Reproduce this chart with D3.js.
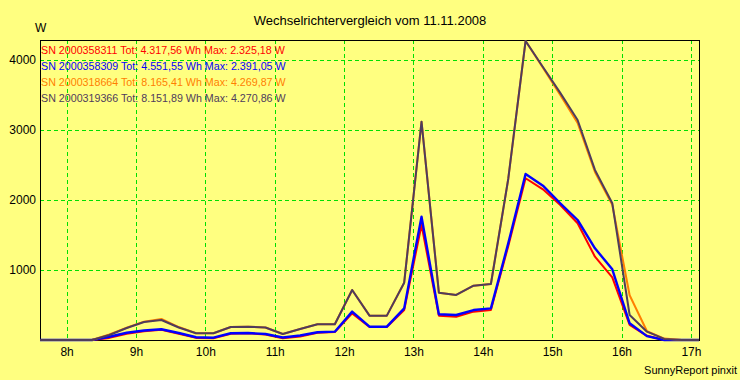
<!DOCTYPE html>
<html>
<head>
<meta charset="utf-8">
<script src="https://cdn.jsdelivr.net/npm/d3@7"></script>
<style>
html,body{margin:0;padding:0;background:#FFFF80;}
svg{display:block;}
text{font-family:"Liberation Sans",Arial,sans-serif;}
</style>
</head>
<body>
<svg id="chart" width="740" height="380"></svg>
<script>
// ---- data ----
const times = ["07:37","07:52","08:07","08:22","08:37","08:52","09:07","09:22","09:37","09:52",
  "10:07","10:22","10:37","10:52","11:07","11:22","11:37","11:52","12:07","12:22",
  "12:37","12:52","13:07","13:22","13:37","13:52","14:07","14:22","14:37","14:52",
  "15:07","15:22","15:37","15:52","16:07","16:22","16:37","16:52","17:07"];
const serials = ["SN 2000358311","SN 2000358309","SN 2000318664","SN 2000319366"];
const totals = ["4.317,56","4.551,55","8.165,41","8.151,89"];
const maxima = ["2.325,18","2.391,05","4.269,87","4.270,86"];
const sRed = [0,0,0,0,30,90,125,145,90,30,25,90,95,80,25,50,105,115,380,185,185,428,1643,348,333,405,428,1340,2310,2152,1929,1667,1190,895,214,60,0,0,0];
const sBlue = [0,0,0,0,47,104,136,153,100,39,33,96,100,86,36,64,110,119,405,190,190,452,1762,367,357,428,452,1380,2371,2204,1953,1714,1310,1010,238,55,0,0,0];
const sOrange = [0,0,0,0,80,175,262,300,185,96,96,186,190,179,86,157,224,224,714,348,348,819,3119,676,643,776,800,2300,4270,3890,3500,3100,2400,1930,640,125,20,0,0];
const sDark = [0,0,0,0,71,171,257,286,179,96,96,186,190,179,86,157,224,224,714,348,348,819,3119,676,643,776,800,2300,4271,3900,3529,3143,2429,1953,357,119,15,0,0];
const hourTicks = [8,9,10,11,12,13,14,15,16,17];
const yTicks = [1000,2000,3000,4000];
const title = "Wechselrichtervergleich vom 11.11.2008";

// ---- layout ----
const colors = ["#FF0000","#0000FF","#FF8000","#4F3C5C"];
const seriesList = [sRed,sBlue,sOrange,sDark];
const L=40,T=40,R=699,B=340;
const toH = s => { const [h,m]=s.split(":").map(Number); return h+m/60; };

const svg = d3.select("#chart");
svg.append("rect").attr("width",740).attr("height",380).attr("fill","#FFFF80");

const x = d3.scaleLinear().domain([toH(times[0]), toH(times[times.length-1])]).range([L,R]);
const y = d3.scaleLinear().domain([0,4285]).range([B,T]);

// grid
const grid = svg.append("g").attr("stroke","#00E000").attr("stroke-dasharray","4,3").attr("shape-rendering","crispEdges");
grid.selectAll("line.v").data(hourTicks).enter().append("line")
  .attr("x1",d=>Math.round(x(d))+0.5).attr("x2",d=>Math.round(x(d))+0.5).attr("y1",T).attr("y2",B);
grid.selectAll("line.h").data(yTicks).enter().append("line")
  .attr("x1",L).attr("x2",R).attr("y1",d=>Math.round(y(d))+0.5).attr("y2",d=>Math.round(y(d))+0.5);

// frame
svg.append("rect").attr("x",L+0.5).attr("y",T+0.5).attr("width",R-L).attr("height",B-T)
  .attr("fill","none").attr("stroke","#000").attr("shape-rendering","crispEdges");

// axes (labels only)
const xAxis = d3.axisBottom(x).tickValues(hourTicks).tickFormat(d=>d+"h").tickSize(0).tickPadding(7);
const gx = svg.append("g").attr("transform",`translate(0,${B})`).call(xAxis);
gx.select(".domain").remove();
gx.selectAll("text").attr("font-size",12).attr("fill","#000").attr("font-family","Liberation Sans, Arial, sans-serif");

const yAxis = d3.axisLeft(y).tickValues(yTicks).tickFormat(d=>String(d)).tickSize(0).tickPadding(4);
const gy = svg.append("g").attr("transform",`translate(${L},0)`).call(yAxis);
gy.select(".domain").remove();
gy.selectAll("text").attr("font-size",12).attr("fill","#000").attr("font-family","Liberation Sans, Arial, sans-serif");

// lines
const line = d3.line().x((d,i)=>x(toH(times[i]))).y(d=>y(d));
seriesList.forEach((s,i)=>{
  svg.append("path").datum(s).attr("d",line).attr("fill","none")
    .attr("stroke",colors[i]).attr("stroke-width",i===1?2.4:2).attr("stroke-linejoin","round");
});

// legend
serials.forEach((sn,i)=>{
  svg.append("text").attr("x",41).attr("y",53.5+i*16).attr("font-size",10.7).attr("fill",colors[i])
    .text(`${sn} Tot: ${totals[i]} Wh Max: ${maxima[i]} W`);
});

// titles
svg.append("text").attr("x",370).attr("y",25).attr("text-anchor","middle").attr("font-size",13).text(title);
svg.append("text").attr("x",35).attr("y",31.5).attr("font-size",12).text("W");
svg.append("text").attr("x",737).attr("y",374).attr("text-anchor","end").attr("font-size",11).text("SunnyReport pinxit");
</script>
</body>
</html>
